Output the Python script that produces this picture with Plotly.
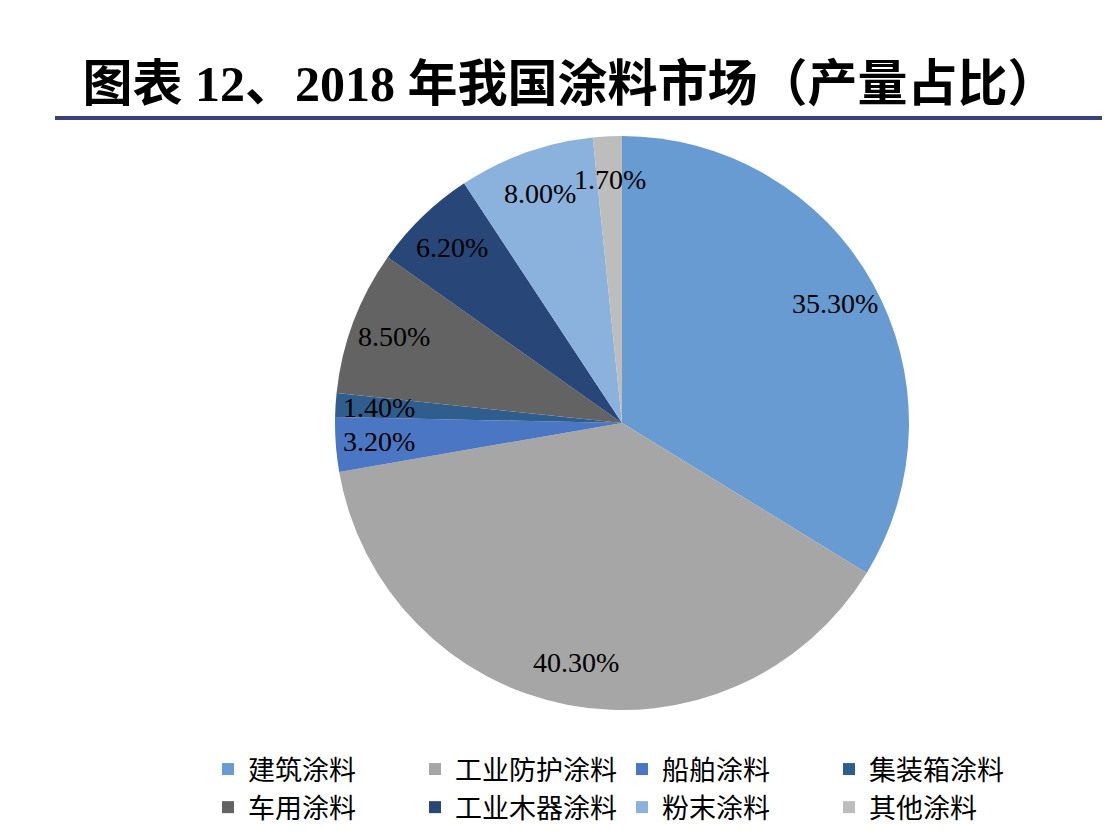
import math
import plotly.graph_objects as go

# 2018 China coatings market, share by output (values as printed on the chart)
categories = ['建筑涂料', '工业防护涂料', '船舶涂料', '集装箱涂料',
              '车用涂料', '工业木器涂料', '粉末涂料', '其他涂料']
shares = [35.3, 40.3, 3.2, 1.4, 8.5, 6.2, 8.0, 1.7]
colors = ['#689BD1', '#A6A6A6', '#4A76C4', '#2F5E8E',
          '#636363', '#284677', '#8AB2DD', '#BDBDBD']

OFF = 8                    # the page body adds an 8px margin
W, H = 1110 - OFF, 838 - OFF
ML, MR = 92, 100           # side margins keep the legend at 4 per row
PW = W - ML - MR


def px_x(x):
    # page pixel -> paper x
    return (x - OFF - ML) / PW


def px_y(y):
    return 1 - (y - OFF) / H


# pie placement in page pixels
dom_x = [330, 914]
dom_y = [136, 710]

fig = go.Figure()

fig.add_trace(go.Pie(
    labels=categories,
    values=shares,
    marker=dict(colors=colors, line=dict(width=0)),
    sort=False,
    direction='clockwise',
    rotation=0,
    textinfo='none',
    hoverinfo='label+value',
    domain=dict(x=[px_x(dom_x[0]), px_x(dom_x[1])],
                y=[px_y(dom_y[1]), px_y(dom_y[0])]),
))

# data labels along each slice's mid angle
cx = (dom_x[0] + dom_x[1]) / 2
cy = (dom_y[0] + dom_y[1]) / 2
radius = min(dom_x[1] - dom_x[0], dom_y[1] - dom_y[0]) / 2
total = sum(shares)
cum = 0
for v in shares:
    mid = (cum + v / 2) / total * 2 * math.pi
    cum += v
    lx = cx + 0.85 * radius * math.sin(mid)
    ly = cy - 0.85 * radius * math.cos(mid)
    fig.add_annotation(
        x=px_x(lx), y=px_y(ly), xref='paper', yref='paper',
        xanchor='center', yanchor='middle',
        text=f'{v:.2f}%', showarrow=False,
        font=dict(family='Liberation Serif, Times New Roman, serif', size=28, color='#000000'),
    )

# rule under the title
fig.add_shape(type='line', xref='paper', yref='paper',
              x0=px_x(55), x1=px_x(1110), y0=px_y(118), y1=px_y(118),
              line=dict(color='#3B3F7C', width=4))

fig.update_layout(
    width=W, height=H,
    margin=dict(l=ML, r=MR, t=0, b=0, autoexpand=False),
    paper_bgcolor='white',
    plot_bgcolor='white',
    title=dict(
        text='图表 12、2018 年我国涂料市场（产量占比）',
        x=(570 - OFF) / W, xanchor='center', y=px_y(83), yanchor='middle',
        font=dict(family='Liberation Serif, Noto Sans CJK SC, serif', size=50,
                  color='#000000', weight='bold'),
    ),
    showlegend=True,
    legend=dict(
        orientation='h',
        x=px_x(208), xanchor='left',
        y=px_y(745), yanchor='top',
        font=dict(family='Noto Sans CJK SC, sans-serif', size=27, color='#000000'),
        traceorder='normal',
        itemclick=False,
    ),
)

fig.write_html('out.html')
